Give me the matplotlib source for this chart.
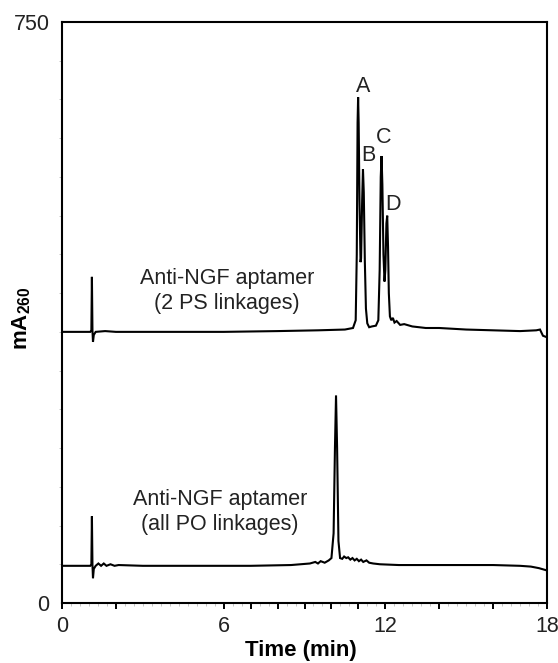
import matplotlib
matplotlib.use("Agg")
import matplotlib.pyplot as plt

plt.rcParams['font.family'] = ['Liberation Sans', 'DejaVu Sans']
plt.rcParams['mathtext.fontset'] = 'custom'
plt.rcParams['mathtext.rm'] = 'Liberation Sans'
plt.rcParams['mathtext.bf'] = 'Liberation Sans:bold'

# ---- data ----
ps_time = [0.0, 1.05, 1.09, 1.11, 1.13, 1.15, 1.18, 1.25, 1.6, 2.0, 4.0, 6.0, 8.0, 9.5,
           10.5, 10.8, 10.90, 10.94, 10.97, 10.99, 11.01, 11.04, 11.08, 11.10, 11.14,
           11.17, 11.20, 11.24, 11.28, 11.33, 11.40, 11.50, 11.65, 11.74, 11.79, 11.83,
           11.86, 11.89, 11.93, 11.97, 12.00, 12.04, 12.07, 12.10, 12.13, 12.17, 12.22,
           12.28, 12.34, 12.42, 12.55, 12.7, 13.0, 13.5, 14.0, 15.0, 16.0, 17.0, 17.6,
           17.74, 17.85, 18.0]
ps_signal = [350, 350, 352, 421, 352, 337, 346, 350, 351, 350, 350, 350, 351, 352,
             353, 355, 365, 450, 620, 653, 620, 520, 440, 445, 520,
             560, 530, 440, 380, 361, 356, 357, 358, 365, 430, 550,
             577, 540, 450, 415, 430, 490, 500, 460, 400, 370, 365,
             368, 362, 364, 359, 360, 357, 355, 355, 353, 352, 351, 352,
             353, 345, 343]

po_time = [0.0, 1.05, 1.09, 1.11, 1.13, 1.15, 1.18, 1.25, 1.35, 1.45, 1.55, 1.65, 1.8,
           1.95, 2.1, 3.0, 5.0, 7.0, 8.5, 9.2, 9.4, 9.5, 9.6, 9.75, 9.9, 10.0, 10.08,
           10.13, 10.17, 10.21, 10.26, 10.32, 10.40, 10.47, 10.55, 10.62, 10.70, 10.78,
           10.86, 10.94, 11.02, 11.10, 11.18, 11.30, 11.40, 11.55, 11.8, 12.5, 14.0,
           16.0, 17.0, 17.4, 17.7, 18.0]
po_signal = [48, 48, 50, 112, 50, 32, 44, 48, 51, 48, 51, 48, 50,
             48, 49, 48, 48, 48, 49, 51, 53, 51, 54, 52, 55, 58, 90,
             200, 268, 200, 80, 58, 57, 60, 58, 59, 56, 58,
             55, 57, 54, 56, 53, 55, 52, 51, 50, 49, 49,
             49, 48, 47, 45, 42]

ps_label = "Anti-NGF aptamer\n(2 PS linkages)"
po_label = "Anti-NGF aptamer\n(all PO linkages)"
peak_names = ["A", "B", "C", "D"]
peak_label_time = [11.17, 11.36, 11.95, 12.29]
peak_label_signal = [667, 578, 601, 515]

x_major = [0, 2, 6, 7, 8, 9, 10, 11, 12, 14, 16, 18]
x_labeled = [0, 6, 12, 18]
y_ticks = [0, 750]

# ---- figure ----
fig = plt.figure(figsize=(5.58, 6.63), dpi=100)
ax = fig.add_axes([62/558, 1-603/663, 485/558, 581/663])

ax.plot(ps_time, ps_signal, color='black', lw=1.5, solid_joinstyle='miter')
ax.plot(po_time, po_signal, color='black', lw=1.5, solid_joinstyle='miter')

ax.set_xlim(0, 18)
ax.set_ylim(0, 750)

ax.set_xticks(x_major)
ax.set_xticklabels([str(v) if v in x_labeled else "" for v in x_major])
ax.set_xticks([i/3 for i in range(0, 55)], minor=True)
ax.set_yticks(y_ticks)
ax.set_yticklabels([str(v) for v in y_ticks])
ax.set_yticks(list(range(0, 751, 50)), minor=True)

ax.tick_params(axis='x', which='major', direction='out', length=4, width=1.4,
               labelsize=15.5, pad=5)
ax.tick_params(axis='x', which='minor', direction='out', length=2, width=0.6,
               color='#bbbbbb')
ax.tick_params(axis='y', which='major', direction='out', length=0, labelsize=15.5, pad=9)
ax.tick_params(axis='y', which='minor', direction='out', length=2, width=0.6,
               color='#bbbbbb')
for lab in ax.get_xticklabels() + ax.get_yticklabels():
    lab.set_color('#222222')

for s in ax.spines.values():
    s.set_linewidth(1.5)

ax.set_xlabel("Time (min)", fontsize=16, fontweight='bold')
ax.xaxis.set_label_coords(0.493, -0.0826)
ax.set_ylabel(r"$\mathbf{mA}_{\mathbf{260}}$", fontsize=16)
ax.yaxis.set_label_coords(-0.0825, 0.4905)
ax.xaxis.label.set_va('center')
ax.yaxis.label.set_va('center')

ax.text(6.12, 403, ps_label, ha='center', va='center', fontsize=15.5,
        color='#222222', linespacing=1.25)
ax.text(5.87, 117, po_label, ha='center', va='center', fontsize=15.5,
        color='#222222', linespacing=1.25)
for n, t, v in zip(peak_names, peak_label_time, peak_label_signal):
    ax.text(t, v, n, ha='center', va='center', fontsize=15.5, color='#222222')

fig.savefig("out.png", dpi=100)
